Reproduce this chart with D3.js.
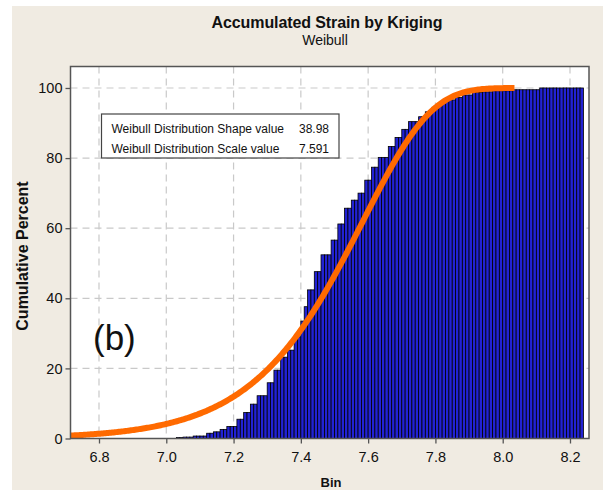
<!DOCTYPE html>
<html>
<head>
<meta charset="utf-8">
<script src="https://cdn.jsdelivr.net/npm/d3@7"></script>
<style>
  html, body { margin: 0; padding: 0; background: #ffffff; }
  svg { display: block; }
</style>
</head>
<body>
<div id="chart"></div>
<script>
// Cumulative histogram of accumulated strain, 0.01-wide bins starting at 7.03
const binStart = 7.03;
const binWidth = 0.01;
const cumulativePercent = [
  0.3, 0.3, 0.4, 0.4, 0.4, 0.7, 0.7, 0.7, 0.7, 1.5,
  1.5, 1.9, 1.9, 2.6, 2.6, 3.4, 3.4, 3.4, 5.5, 5.5,
  7.4, 7.4, 9.8, 9.8, 12.2, 12.2, 12.2, 15.9, 15.9, 19.5,
  19.5, 23.2, 23.2, 25.2, 25.2, 29.0, 29.0, 33.5, 37.6, 42.4,
  42.4, 47.6, 47.6, 52.4, 52.4, 52.4, 56.6, 56.6, 61.2, 61.2,
  65.7, 65.7, 68.0, 68.0, 70.0, 70.0, 73.7, 73.7, 77.4, 77.4,
  80.2, 80.2, 80.2, 83.3, 83.3, 85.9, 85.9, 88.2, 88.2, 90.4,
  90.4, 90.4, 91.8, 91.8, 93.2, 93.2, 94.5, 94.5, 95.6, 95.6,
  96.6, 96.6, 96.6, 97.3, 97.3, 98.0, 98.0, 98.0, 98.7, 98.7,
  98.7, 98.9, 98.9, 98.9, 99.2, 99.2, 99.2, 99.2, 99.2, 99.2,
  99.5, 99.5, 99.5, 99.5, 99.5, 99.5, 99.5, 99.5, 100, 100,
  100, 100, 100, 100, 100, 100, 100, 100, 100, 100,
  100
];

// Fitted Weibull distribution parameters
const weibullShape = 38.98;
const weibullScale = 7.591;
const fitRange = [6.7153, 8.035];

const xTicks = [6.8, 7.0, 7.2, 7.4, 7.6, 7.8, 8.0, 8.2];
const yTicks = [0, 20, 40, 60, 80, 100];
const legendRows = [
  { label: "Weibull Distribution Shape value", value: "38.98" },
  { label: "Weibull Distribution Scale value", value: "7.591" }
];

const W = 603, H = 490;
const plot = { left: 70.5, top: 66.5, right: 589, bottom: 438.5 };

const svg = d3.select("#chart").append("svg")
  .attr("width", W).attr("height", H);

// page frame
svg.append("rect").attr("x", 12).attr("y", 6).attr("width", W - 12).attr("height", H - 6)
  .attr("fill", "#f0ebe2");

const x = d3.scaleLinear().domain([6.7153, 8.2565]).range([plot.left, plot.right]);
const y = d3.scaleLinear().domain([0, 106.13]).range([plot.bottom, plot.top]);

svg.append("rect")
  .attr("x", plot.left).attr("y", plot.top)
  .attr("width", plot.right - plot.left).attr("height", plot.bottom - plot.top)
  .attr("fill", "#ffffff");

// dashed reference grid
const grid = svg.append("g").attr("stroke", "#c9c9c9").attr("stroke-width", 1.2)
  .attr("stroke-dasharray", "7,5");
grid.selectAll("line.v").data(xTicks).join("line")
  .attr("x1", d => x(d)).attr("x2", d => x(d))
  .attr("y1", plot.top).attr("y2", plot.bottom);
grid.selectAll("line.h").data(yTicks.filter(d => d > 0)).join("line")
  .attr("y1", d => y(d)).attr("y2", d => y(d))
  .attr("x1", plot.left).attr("x2", plot.right);

// bars
svg.append("g").selectAll("rect").data(cumulativePercent).join("rect")
  .attr("x", (d, i) => x(binStart + i * binWidth))
  .attr("width", (d, i) => x(binStart + (i + 1) * binWidth) - x(binStart + i * binWidth))
  .attr("y", d => y(d))
  .attr("height", d => y(0) - y(d))
  .attr("fill", "#2222d4")
  .attr("stroke", "#000000")
  .attr("stroke-width", 0.8);

// fitted Weibull CDF
const weibullCdf = v => 100 * (1 - Math.exp(-Math.pow(v / weibullScale, weibullShape)));
const fitX = d3.range(fitRange[0], fitRange[1], 0.004).concat([fitRange[1]]);
svg.append("path")
  .datum(fitX)
  .attr("fill", "none")
  .attr("stroke", "#ff6a00")
  .attr("stroke-width", 6)
  .attr("stroke-linejoin", "round")
  .attr("d", d3.line().x(d => x(d)).y(d => y(weibullCdf(d))));

// plot border
svg.append("rect")
  .attr("x", plot.left).attr("y", plot.top)
  .attr("width", plot.right - plot.left).attr("height", plot.bottom - plot.top)
  .attr("fill", "none").attr("stroke", "#555555").attr("stroke-width", 1.5);

// axes
const fontFamily = "'Liberation Sans', Arial, sans-serif";
const xAxis = svg.append("g").attr("transform", `translate(0,${plot.bottom})`)
  .call(d3.axisBottom(x).tickValues(xTicks).tickFormat(d3.format(".1f")).tickSize(5).tickPadding(8));
const yAxis = svg.append("g").attr("transform", `translate(${plot.left},0)`)
  .call(d3.axisLeft(y).tickValues(yTicks).tickSize(5).tickPadding(3));
[xAxis, yAxis].forEach(a => {
  a.select(".domain").remove();
  a.selectAll(".tick line").attr("stroke", "#555555").attr("stroke-width", 1.3);
  a.selectAll(".tick text").attr("fill", "#111111").attr("font-family", fontFamily).attr("font-size", 14.5);
});

// titles
svg.append("text").attr("x", 327).attr("y", 27.5).attr("text-anchor", "middle")
  .attr("font-family", fontFamily).attr("font-weight", "bold").attr("font-size", 16)
  .attr("letter-spacing", -0.1).attr("fill", "#111")
  .text("Accumulated Strain by Kriging");
svg.append("text").attr("x", 325).attr("y", 45).attr("text-anchor", "middle")
  .attr("font-family", fontFamily).attr("font-size", 14).attr("fill", "#111")
  .text("Weibull");

svg.append("text").attr("x", 331).attr("y", 487).attr("text-anchor", "middle")
  .attr("font-family", fontFamily).attr("font-weight", "bold").attr("font-size", 13)
  .attr("fill", "#111").text("Bin");
svg.append("text").attr("transform", "translate(28,256) rotate(-90)").attr("text-anchor", "middle")
  .attr("font-family", fontFamily).attr("font-weight", "bold").attr("font-size", 16)
  .attr("fill", "#111").text("Cumulative Percent");

// panel label
svg.append("text").attr("x", 93).attr("y", 350)
  .attr("font-family", fontFamily).attr("font-size", 35).attr("fill", "#111")
  .text("(b)");

// parameter box
const legend = svg.append("g");
legend.append("rect").attr("x", 101.5).attr("y", 114).attr("width", 237.5).attr("height", 44)
  .attr("fill", "#ffffff").attr("stroke", "#444444").attr("stroke-width", 1.2);
legend.selectAll("text.l").data(legendRows).join("text")
  .attr("x", 111.5).attr("y", (d, i) => 132.5 + i * 20)
  .attr("font-family", fontFamily).attr("font-size", 12).attr("fill", "#111")
  .text(d => d.label);
legend.selectAll("text.v").data(legendRows).join("text")
  .attr("x", 329).attr("y", (d, i) => 132.5 + i * 20).attr("text-anchor", "end")
  .attr("font-family", fontFamily).attr("font-size", 12).attr("fill", "#111")
  .text(d => d.value);
</script>
</body>
</html>
